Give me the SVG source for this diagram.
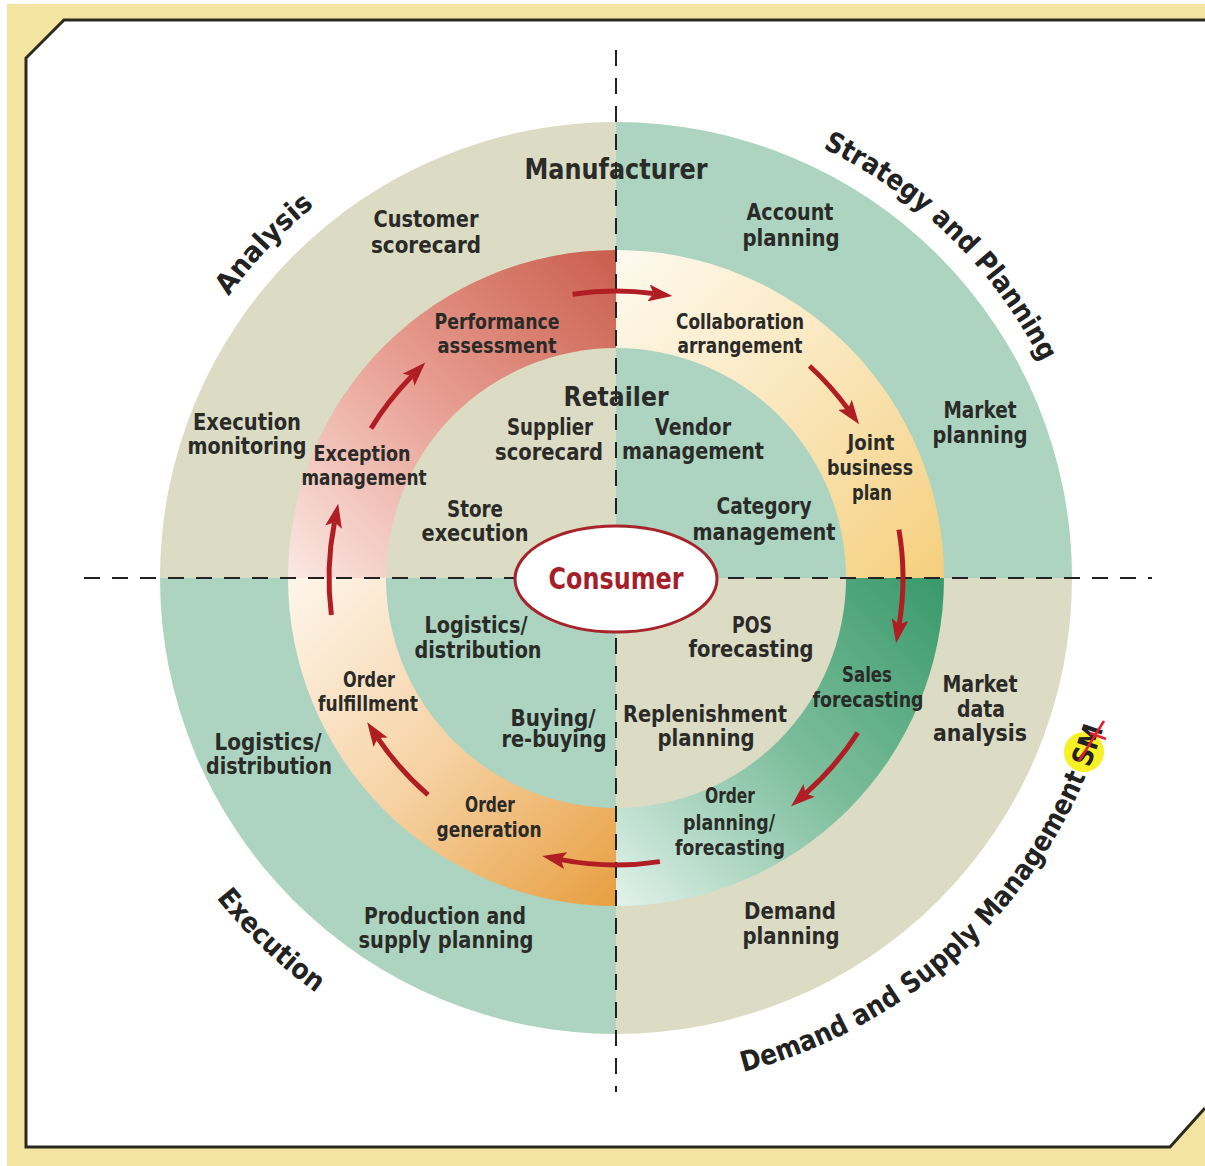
<svg xmlns="http://www.w3.org/2000/svg" width="1205" height="1166" viewBox="0 0 1205 1166">
<defs>
<style>
.lb{font-family:"DejaVu Sans","Liberation Sans",sans-serif;font-weight:bold;fill:#2a2b28;text-anchor:middle}
.s23{font-size:23px}
.s21{font-size:21px}
.big{font-size:29px}
.ttl{font-family:"DejaVu Sans","Liberation Sans",sans-serif;font-weight:bold;font-size:28px;fill:#222}
.beige{fill:#dcdbc4}
.green{fill:#acd4c0}
.axis{stroke:#222;stroke-width:2;stroke-dasharray:16 12;fill:none}
.flow{stroke:#b01e23;stroke-width:5;fill:none;marker-end:url(#ah)}
</style>
<linearGradient id="gTL" gradientUnits="userSpaceOnUse" x1="288" y1="578" x2="616" y2="250">
<stop offset="0" stop-color="#fbe9e3"/><stop offset="0.5" stop-color="#e89e92"/><stop offset="1" stop-color="#c95d4c"/>
</linearGradient>
<linearGradient id="gTR" gradientUnits="userSpaceOnUse" x1="616" y1="250" x2="944" y2="578">
<stop offset="0" stop-color="#fefaf0"/><stop offset="0.5" stop-color="#fae6bb"/><stop offset="1" stop-color="#f5cf7c"/>
</linearGradient>
<linearGradient id="gBR" gradientUnits="userSpaceOnUse" x1="944" y1="578" x2="616" y2="906">
<stop offset="0" stop-color="#38996a"/><stop offset="0.5" stop-color="#7dbe9c"/><stop offset="1" stop-color="#e2f2ec"/>
</linearGradient>
<linearGradient id="gBL" gradientUnits="userSpaceOnUse" x1="616" y1="906" x2="288" y2="578">
<stop offset="0" stop-color="#e89f40"/><stop offset="0.5" stop-color="#f6d2a4"/><stop offset="1" stop-color="#fef6ec"/>
</linearGradient>
<marker id="ah" markerUnits="userSpaceOnUse" markerWidth="24" markerHeight="17" viewBox="0 0 24 17" refX="5" refY="8.5" orient="auto">
<path d="M0,0 L24,8.5 L0,17 L5,8.5 Z" fill="#b01e23"/>
</marker>
<path id="arcAnalysis" d="M144.3,494.8 A479,479 0 0 1 508.2,111.3"/>
<path id="arcStrategy" d="M693.9,107.4 A477,477 0 0 1 1084.9,490.2"/>
<path id="arcExecution" d="M121.5,710.5 A512,512 0 0 0 507.8,1078.4"/>
<path id="arcDemand" d="M612.9,1088 A510,510 0 0 0 1125.6,598.9"/>
</defs>

<!-- page frame -->
<g id="frame">
<rect x="0" y="0" width="1205" height="1166" fill="#ffffff"/>
<rect x="7" y="4" width="1198" height="1162" fill="#f4e4a2"/>
<polygon points="26,58 64,20 1205,20 1205,1108 1170,1147 26,1147" fill="#ffffff"/>
<polyline points="1205,20 64,20 26,58 26,1147 1170,1147 1205,1108" fill="none" stroke="#2b2a1e" stroke-width="3"/>
</g>

<!-- outer disc: manufacturer activities -->
<g id="outer-disc">
<path class="beige" d="M616,578 L160,578 A456,456 0 0 1 616,122 Z"/>
<path class="green" d="M616,578 L616,122 A456,456 0 0 1 1072,578 Z"/>
<path class="beige" d="M616,578 L1072,578 A456,456 0 0 1 616,1034 Z"/>
<path class="green" d="M616,578 L616,1034 A456,456 0 0 1 160,578 Z"/>
</g>

<!-- collaboration ring -->
<g id="process-ring">
<path fill="url(#gTL)" d="M616,578 L288,578 A328,328 0 0 1 616,250 Z"/>
<path fill="url(#gTR)" d="M616,578 L616,250 A328,328 0 0 1 944,578 Z"/>
<path fill="url(#gBR)" d="M616,578 L944,578 A328,328 0 0 1 616,906 Z"/>
<path fill="url(#gBL)" d="M616,578 L616,906 A328,328 0 0 1 288,578 Z"/>
</g>

<!-- inner disc: retailer activities -->
<g id="inner-disc">
<path class="beige" d="M616,578 L386,578 A230,230 0 0 1 616,348 Z"/>
<path class="green" d="M616,578 L616,348 A230,230 0 0 1 846,578 Z"/>
<path class="beige" d="M616,578 L846,578 A230,230 0 0 1 616,808 Z"/>
<path class="green" d="M616,578 L616,808 A230,230 0 0 1 386,578 Z"/>
</g>

<!-- quadrant titles, set word by word along the outer arcs -->
<g id="quadrant-titles">
<text class="ttl"><textPath href="#arcAnalysis" startOffset="50%" text-anchor="middle" textLength="125" lengthAdjust="spacingAndGlyphs">Analysis</textPath></text>
<text class="ttl"><textPath href="#arcStrategy" startOffset="135.4" textLength="120.7" lengthAdjust="spacingAndGlyphs">Strategy</textPath></text>
<text class="ttl"><textPath href="#arcStrategy" startOffset="264.7" textLength="51.9" lengthAdjust="spacingAndGlyphs">and</textPath></text>
<text class="ttl"><textPath href="#arcStrategy" startOffset="325.2" textLength="122.1" lengthAdjust="spacingAndGlyphs">Planning</textPath></text>
<text class="ttl"><textPath href="#arcExecution" startOffset="50%" text-anchor="middle" textLength="138" lengthAdjust="spacingAndGlyphs">Execution</textPath></text>
<circle cx="1084" cy="752" r="20" fill="#f6ee10" opacity="0.9"/>
<text class="ttl"><textPath href="#arcDemand" startOffset="131.7" textLength="114.7" lengthAdjust="spacingAndGlyphs">Demand</textPath></text>
<text class="ttl"><textPath href="#arcDemand" startOffset="255" textLength="51.9" lengthAdjust="spacingAndGlyphs">and</textPath></text>
<text class="ttl"><textPath href="#arcDemand" startOffset="315.5" textLength="95.2" lengthAdjust="spacingAndGlyphs">Supply</textPath></text>
<text class="ttl"><textPath href="#arcDemand" startOffset="419.3" textLength="181.5" lengthAdjust="spacingAndGlyphs">Management</textPath></text>
<text class="ttl"><textPath href="#arcDemand" startOffset="609.4" textLength="42.3" lengthAdjust="spacingAndGlyphs">SM</textPath></text>
<path d="M1079,761 L1104,721 M1090,733 L1106,739" stroke="#e3202b" stroke-width="2.5" fill="none"/>
</g>

<!-- dashed axes -->
<g id="axes">
<line class="axis" x1="616" y1="50" x2="616" y2="1092"/>
<line class="axis" x1="84" y1="578" x2="1152" y2="578"/>
</g>

<!-- process flow connectors -->
<g id="connectors">
<path class="flow" d="M572.6,294.3 A287,287 0 0 1 653.5,293.5"/>
<path class="flow" d="M809.5,366.0 A287,287 0 0 1 847.9,408.9"/>
<path class="flow" d="M898.9,529.6 A287,287 0 0 1 899.2,624.4"/>
<path class="flow" d="M857.8,732.6 A287,287 0 0 1 805.4,793.6"/>
<path class="flow" d="M659.9,861.6 A287,287 0 0 1 560.8,859.6"/>
<path class="flow" d="M428.1,794.9 A287,287 0 0 1 377.8,738.1"/>
<path class="flow" d="M331.4,615.0 A287,287 0 0 1 334.5,522.3"/>
<path class="flow" d="M371.0,428.5 A287,287 0 0 1 412.0,376.1"/>
</g>

<g id="consumer">
<ellipse cx="616" cy="579" rx="101" ry="53" fill="#ffffff" stroke="#a8232b" stroke-width="3"/>
<text x="616" y="589" class="lb" style="font-size:31px;fill:#a51f2a" textLength="135" lengthAdjust="spacingAndGlyphs">Consumer</text>
</g>

<g id="manufacturer">
<text x="616" y="179" class="lb big" textLength="183" lengthAdjust="spacingAndGlyphs">Manufacturer</text>
</g>
<g id="retailer">
<text x="616" y="406" class="lb" style="font-size:27px" textLength="105" lengthAdjust="spacingAndGlyphs">Retailer</text>
</g>

<!-- manufacturer side activities -->
<g id="customer-scorecard">
<text x="426" y="227" class="lb s23" textLength="105" lengthAdjust="spacingAndGlyphs">Customer</text>
<text x="426" y="253" class="lb s23" textLength="110" lengthAdjust="spacingAndGlyphs">scorecard</text>
</g>
<g id="execution-monitoring">
<text x="247" y="430" class="lb s23" textLength="108" lengthAdjust="spacingAndGlyphs">Execution</text>
<text x="247" y="454" class="lb s23" textLength="119" lengthAdjust="spacingAndGlyphs">monitoring</text>
</g>
<g id="account-planning">
<text x="790" y="220" class="lb s23" textLength="87" lengthAdjust="spacingAndGlyphs">Account</text>
<text x="791" y="246" class="lb s23" textLength="97" lengthAdjust="spacingAndGlyphs">planning</text>
</g>
<g id="market-planning">
<text x="980" y="418" class="lb s23" textLength="73" lengthAdjust="spacingAndGlyphs">Market</text>
<text x="980" y="443" class="lb s23" textLength="95" lengthAdjust="spacingAndGlyphs">planning</text>
</g>
<g id="market-data-analysis">
<text x="980" y="692" class="lb s23" textLength="75" lengthAdjust="spacingAndGlyphs">Market</text>
<text x="981" y="717" class="lb s23" textLength="48" lengthAdjust="spacingAndGlyphs">data</text>
<text x="980" y="741" class="lb s23" textLength="94" lengthAdjust="spacingAndGlyphs">analysis</text>
</g>
<g id="demand-planning">
<text x="790" y="919" class="lb s23" textLength="92" lengthAdjust="spacingAndGlyphs">Demand</text>
<text x="791" y="944" class="lb s23" textLength="97" lengthAdjust="spacingAndGlyphs">planning</text>
</g>
<g id="production-supply-planning">
<text x="445" y="924" class="lb s23" textLength="162" lengthAdjust="spacingAndGlyphs">Production and</text>
<text x="446" y="948" class="lb s23" textLength="175" lengthAdjust="spacingAndGlyphs">supply planning</text>
</g>
<g id="logistics-distribution-mfr">
<text x="268" y="750" class="lb s23" textLength="107" lengthAdjust="spacingAndGlyphs">Logistics/</text>
<text x="269" y="774" class="lb s23" textLength="126" lengthAdjust="spacingAndGlyphs">distribution</text>
</g>

<!-- collaboration ring steps -->
<g id="performance-assessment">
<text x="497" y="329" class="lb s21" textLength="125" lengthAdjust="spacingAndGlyphs">Performance</text>
<text x="497" y="353" class="lb s21" textLength="119" lengthAdjust="spacingAndGlyphs">assessment</text>
</g>
<g id="collaboration-arrangement">
<text x="740" y="329" class="lb s21" textLength="128" lengthAdjust="spacingAndGlyphs">Collaboration</text>
<text x="740" y="353" class="lb s21" textLength="125" lengthAdjust="spacingAndGlyphs">arrangement</text>
</g>
<g id="joint-business-plan">
<text x="871" y="450" class="lb s21" textLength="47" lengthAdjust="spacingAndGlyphs">Joint</text>
<text x="870" y="475" class="lb s21" textLength="86" lengthAdjust="spacingAndGlyphs">business</text>
<text x="872" y="500" class="lb s21" textLength="40" lengthAdjust="spacingAndGlyphs">plan</text>
</g>
<g id="sales-forecasting">
<text x="867" y="682" class="lb s21" textLength="50" lengthAdjust="spacingAndGlyphs">Sales</text>
<text x="868" y="707" class="lb s21" textLength="111" lengthAdjust="spacingAndGlyphs">forecasting</text>
</g>
<g id="order-planning-forecasting">
<text x="730" y="803" class="lb s21" textLength="50" lengthAdjust="spacingAndGlyphs">Order</text>
<text x="729" y="830" class="lb s21" textLength="92" lengthAdjust="spacingAndGlyphs">planning/</text>
<text x="730" y="855" class="lb s21" textLength="110" lengthAdjust="spacingAndGlyphs">forecasting</text>
</g>
<g id="order-generation">
<text x="490" y="812" class="lb s21" textLength="50" lengthAdjust="spacingAndGlyphs">Order</text>
<text x="489" y="837" class="lb s21" textLength="105" lengthAdjust="spacingAndGlyphs">generation</text>
</g>
<g id="order-fulfillment">
<text x="369" y="687" class="lb s21" textLength="52" lengthAdjust="spacingAndGlyphs">Order</text>
<text x="368" y="711" class="lb s21" textLength="100" lengthAdjust="spacingAndGlyphs">fulfillment</text>
</g>
<g id="exception-management">
<text x="362" y="461" class="lb s21" textLength="97" lengthAdjust="spacingAndGlyphs">Exception</text>
<text x="364" y="485" class="lb s21" textLength="125" lengthAdjust="spacingAndGlyphs">management</text>
</g>

<!-- retailer side activities -->
<g id="supplier-scorecard">
<text x="550" y="435" class="lb s23" textLength="86" lengthAdjust="spacingAndGlyphs">Supplier</text>
<text x="549" y="460" class="lb s23" textLength="108" lengthAdjust="spacingAndGlyphs">scorecard</text>
</g>
<g id="store-execution">
<text x="475" y="517" class="lb s23" textLength="56" lengthAdjust="spacingAndGlyphs">Store</text>
<text x="475" y="541" class="lb s23" textLength="107" lengthAdjust="spacingAndGlyphs">execution</text>
</g>
<g id="vendor-management">
<text x="693" y="435" class="lb s23" textLength="76" lengthAdjust="spacingAndGlyphs">Vendor</text>
<text x="693" y="459" class="lb s23" textLength="142" lengthAdjust="spacingAndGlyphs">management</text>
</g>
<g id="category-management">
<text x="764" y="514" class="lb s23" textLength="95" lengthAdjust="spacingAndGlyphs">Category</text>
<text x="764" y="540" class="lb s23" textLength="143" lengthAdjust="spacingAndGlyphs">management</text>
</g>
<g id="logistics-distribution-ret">
<text x="476" y="633" class="lb s23" textLength="103" lengthAdjust="spacingAndGlyphs">Logistics/</text>
<text x="478" y="658" class="lb s23" textLength="127" lengthAdjust="spacingAndGlyphs">distribution</text>
</g>
<g id="buying-rebuying">
<text x="553" y="726" class="lb s23" textLength="85" lengthAdjust="spacingAndGlyphs">Buying/</text>
<text x="554" y="747" class="lb s23" textLength="105" lengthAdjust="spacingAndGlyphs">re-buying</text>
</g>
<g id="pos-forecasting">
<text x="752" y="633" class="lb s23" textLength="40" lengthAdjust="spacingAndGlyphs">POS</text>
<text x="751" y="657" class="lb s23" textLength="125" lengthAdjust="spacingAndGlyphs">forecasting</text>
</g>
<g id="replenishment-planning">
<text x="705" y="722" class="lb s23" textLength="164" lengthAdjust="spacingAndGlyphs">Replenishment</text>
<text x="706" y="746" class="lb s23" textLength="97" lengthAdjust="spacingAndGlyphs">planning</text>
</g>
</svg>
